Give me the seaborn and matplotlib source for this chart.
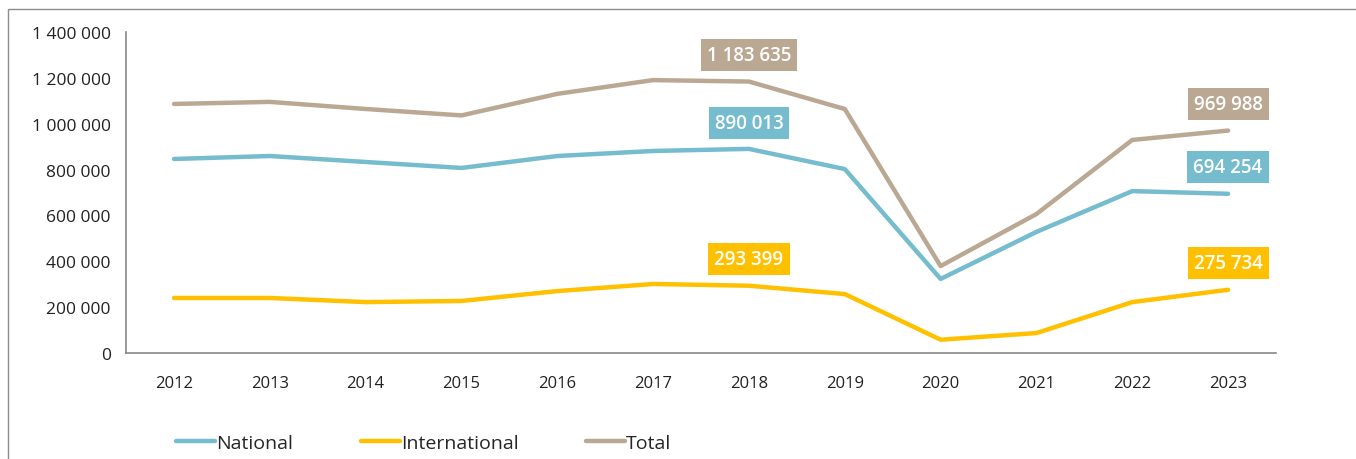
import pandas as pd
import numpy as np
import seaborn as sns
import matplotlib.pyplot as plt
from matplotlib.patches import Rectangle

# values
years = ['2012', '2013', '2014', '2015', '2016', '2017', '2018', '2019', '2020', '2021', '2022', '2023']
national = [846000, 859000, 833000, 807000, 859000, 881000, 890013, 802000, 323000, 528000, 706000, 694254]
international = [240000, 240000, 222000, 227000, 270000, 301000, 293399, 257000, 58000, 87000, 222000, 275734]
total = [1086000, 1095000, 1064000, 1036000, 1130000, 1190000, 1183635, 1064000, 379000, 606000, 929000, 969988]
series_names = ['National', 'International', 'Total']
colors = {'National': '#74BCCE', 'International': '#FFC000', 'Total': '#BAA893'}
labelled_years = ['2018', '2023']

df = pd.DataFrame({'Year': years, 'National': national, 'International': international, 'Total': total})
long_df = df.melt(id_vars='Year', var_name='Series', value_name='Value')
long_df['x'] = long_df['Year'].map({y: i for i, y in enumerate(years)})

sns.set_style("white")
plt.rcParams['font.family'] = ['Open Sans', 'DejaVu Sans']

fig = plt.figure(figsize=(13.56, 4.6), dpi=100)
ax = fig.add_axes([0.093, 0.2304, 0.848, 0.698])

sns.lineplot(data=long_df, x='x', y='Value', hue='Series', hue_order=series_names,
             palette=colors, linewidth=3.2, ax=ax, legend=False)

# value boxes
for name in series_names:
    vals = df.set_index('Year')[name]
    for y in labelled_years:
        xi = years.index(y)
        v = vals[y]
        ax.annotate(f"{v:,}".replace(',', ' '), (xi, v), xytext=(0, 19), textcoords='offset points',
                    ha='center', va='center', color='white', fontsize=13.5, fontweight='semibold',
                    bbox=dict(boxstyle='square,pad=0.32', fc=colors[name], ec='none'))

ax.set_xlim(-0.5, len(years) - 0.5)
ax.set_ylim(0, 1400000)
ax.set_yticks(np.arange(0, 1400001, 200000))
ax.set_yticklabels([f"{int(t):,}".replace(',', ' ') for t in ax.get_yticks()], fontsize=12.5, color='#222222')
ax.set_xticks(range(len(years)))
ax.set_xticklabels(years, fontsize=12, color='#222222')
ax.set_xticks(np.arange(-0.5, len(years), 1), minor=True)
ax.tick_params(axis='x', which='major', length=0, pad=16)
ax.tick_params(axis='x', which='minor', length=6, color='#888888', direction='out')
ax.tick_params(axis='y', length=5, color='#888888', direction='out', pad=6)
ax.set_xlabel('')
ax.set_ylabel('')
for s in ['top', 'right']:
    ax.spines[s].set_visible(False)
for s in ['left', 'bottom']:
    ax.spines[s].set_color('#888888')
    ax.spines[s].set_linewidth(1.2)

# legend below the plot
handles = [plt.Line2D([], [], color=colors[n], linewidth=3.2) for n in series_names]
fig.legend(handles, series_names, loc='center left', bbox_to_anchor=(0.117, 0.035), ncol=3,
           frameon=False, fontsize=14, handlelength=2.0, handletextpad=0.05, columnspacing=3.5)

# outer chart border
fig.patches.append(Rectangle((8 / 1356, -0.1), 1.2, 1 - 10 / 460 + 0.1, transform=fig.transFigure,
                             fill=False, ec='#8c8c8c', lw=1.0))

fig.savefig('out.png', dpi=100)
